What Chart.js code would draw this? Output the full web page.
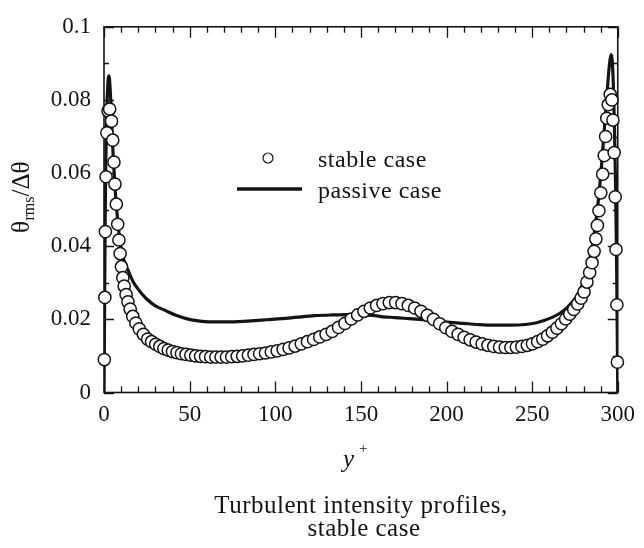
<!DOCTYPE html>
<html>
<head>
<meta charset="utf-8">
<script src="https://cdn.jsdelivr.net/npm/chart.js@4"></script>
<style>
  html, body { margin: 0; padding: 0; background: #fff; }
  canvas { display: block; }
</style>
</head>
<body>
<canvas id="c" width="644" height="548"></canvas>
<script>
// Wall-normal positions y+ and rms temperature fluctuation, stable stratification
const stableY = [0.2, 0.5, 0.8, 1.2, 1.7, 2.4, 3.3, 4.4, 5.1, 5.8,
  6.4, 7.2, 8.0, 8.7, 9.4, 10.2, 11.0, 11.8, 12.9, 14.0,
  15.3, 16.8, 18.6, 20.6, 23.0, 25.5, 27.8, 30.2, 32.6, 35.0,
  37.5, 40.0, 42.6, 45.2, 47.9, 50.7, 53.5, 56.4, 59.3, 62.3,
  65.3, 68.4, 71.5, 74.6, 77.8, 81.0, 84.3, 87.6, 90.9, 94.3,
  97.7, 101.1, 104.6, 108.1, 111.6, 115.2, 118.8, 122.4, 126.0, 129.7,
  133.3, 137.0, 140.7, 144.4, 148.1, 151.8, 155.5, 159.2, 162.9, 166.6,
  170.3, 174.0, 177.7, 181.4, 185.1, 188.8, 192.4, 196.0, 199.6, 203.2,
  206.8, 210.3, 213.8, 217.3, 220.8, 224.2, 227.6, 231.0, 234.3, 237.6,
  240.8, 244.0, 247.2, 250.2, 253.2, 256.2, 259.0, 261.8, 264.5, 267.1,
  269.6, 272.0, 274.3, 276.6, 278.6, 280.3, 282.0, 283.6, 285.0, 286.2,
  287.2, 288.1, 289.0, 290.1, 291.2, 292.1, 292.9, 293.6, 294.5, 295.6,
  296.6, 297.2, 297.9, 298.5, 299.0, 299.5, 299.8];
const stableTheta = [0.009, 0.026, 0.044, 0.059, 0.071, 0.077, 0.0775, 0.0742, 0.069, 0.063,
  0.057, 0.0515, 0.046, 0.0417, 0.038, 0.0344, 0.0314, 0.0291, 0.0268, 0.0248,
  0.0228, 0.0208, 0.019, 0.0174, 0.0159, 0.0146, 0.0139, 0.0132, 0.0126, 0.0120,
  0.0116, 0.0112, 0.0109, 0.0106, 0.0104, 0.0102, 0.0100, 0.0099, 0.0098, 0.0097,
  0.0097, 0.0097, 0.0097, 0.0098, 0.0099, 0.0100, 0.0102, 0.0104, 0.0106, 0.0108,
  0.0111, 0.0114, 0.0118, 0.0122, 0.0127, 0.0133, 0.0139, 0.0145, 0.0152, 0.0159,
  0.0167, 0.0178, 0.0189, 0.0201, 0.0212, 0.0222, 0.0231, 0.0238, 0.0243, 0.0246,
  0.0246, 0.0243, 0.0238, 0.0231, 0.0222, 0.0211, 0.0200, 0.0188, 0.0177, 0.0167,
  0.0159, 0.0151, 0.0144, 0.0138, 0.0133, 0.0129, 0.0126, 0.0124, 0.0123, 0.0123,
  0.0124, 0.0126, 0.0129, 0.0133, 0.0139, 0.0146, 0.0155, 0.0165, 0.0176, 0.0188,
  0.0201, 0.0214, 0.0227, 0.0242, 0.0258, 0.0275, 0.0302, 0.0328, 0.0355, 0.0386,
  0.0420, 0.0457, 0.0497, 0.0546, 0.0597, 0.0648, 0.0700, 0.0750, 0.0787, 0.0815,
  0.0800, 0.0745, 0.0656, 0.0535, 0.0391, 0.0240, 0.0083];

// Passive scalar profile
const passiveY = [0, 0.2, 0.4, 0.7, 1.1, 1.6, 2.2, 2.9, 3.6, 4.3,
  5.0, 5.8, 6.6, 7.5, 8.5, 9.6, 10.8, 12.2, 14.0, 17.0,
  20.0, 24.6, 30, 36, 42, 48, 55, 62, 70, 78,
  86, 95, 104, 113, 123, 133, 142, 150, 157, 163,
  170, 178, 186, 194, 202, 210, 218, 228, 238, 246,
  252, 257, 262, 266, 270, 273, 276, 278.5, 281, 283,
  285, 287, 289, 290.5, 292, 293.5, 294.8, 295.7, 296.3, 296.9,
  297.5, 298.1, 298.6, 299.0, 299.4, 299.7, 300];
const passiveTheta = [0, 0.012, 0.028, 0.048, 0.064, 0.076, 0.084, 0.0866, 0.083, 0.076,
  0.068, 0.061, 0.055, 0.0495, 0.0447, 0.0405, 0.0375, 0.0355, 0.0335, 0.0303,
  0.0282, 0.0257, 0.0237, 0.0224, 0.0211, 0.0202, 0.0196, 0.0193, 0.0193, 0.0194,
  0.0196, 0.0199, 0.0202, 0.0206, 0.0210, 0.0212, 0.0213, 0.0212, 0.0211, 0.0207,
  0.0205, 0.0202, 0.0199, 0.0196, 0.0192, 0.0189, 0.0186, 0.0184, 0.0184, 0.0186,
  0.0190, 0.0197, 0.0206, 0.0216, 0.0230, 0.0245, 0.0263, 0.0285, 0.0315, 0.0350,
  0.0395, 0.046, 0.054, 0.062, 0.071, 0.080, 0.088, 0.0915, 0.0924, 0.090,
  0.083, 0.072, 0.060, 0.047, 0.032, 0.017, 0];

// Axis ticks
const xTickValues = [0, 50, 100, 150, 200, 250, 300];
const yTickValues = [0, 0.02, 0.04, 0.06, 0.08, 0.1];
const xMinorStep = 10;
const yMinorStep = 0.01;

const seriesLabels = ['stable case', 'passive case'];
const captionLines = ['Turbulent intensity profiles,', 'stable case'];

const SERIF = '"Liberation Serif", "Times New Roman", serif';
const INK = '#141414';

// Boxed frame with inward major/minor ticks on all four sides
const frameTicks = {
  id: 'frameTicks',
  beforeDatasetsDraw(chart) {
    const { ctx, chartArea: a, scales: { x, y } } = chart;
    ctx.save();
    ctx.strokeStyle = INK;
    ctx.lineWidth = 1.6;
    ctx.strokeRect(a.left, a.top, a.right - a.left, a.bottom - a.top);
    ctx.lineWidth = 1.3;
    ctx.beginPath();
    const xMin = x.min, xMax = x.max;
    for (let i = 0; xMin + i * xMinorStep <= xMax + 1e-9; i++) {
      const v = xMin + i * xMinorStep;
      const px = Math.round(x.getPixelForValue(v)) + 0.5;
      const major = xTickValues.some(t => Math.abs(t - v) < 1e-6);
      const len = major ? 11 : 6;
      ctx.moveTo(px, a.bottom); ctx.lineTo(px, a.bottom - len);
      ctx.moveTo(px, a.top); ctx.lineTo(px, a.top + len);
    }
    const yMin = y.min, yMax = y.max;
    for (let i = 0; yMin + i * yMinorStep <= yMax + 1e-9; i++) {
      const v = yMin + i * yMinorStep;
      const py = Math.round(y.getPixelForValue(v)) + 0.5;
      const major = yTickValues.some(t => Math.abs(t - v) < 1e-6);
      const len = major ? 10 : 5;
      ctx.moveTo(a.left, py); ctx.lineTo(a.left + len, py);
      ctx.moveTo(a.right, py); ctx.lineTo(a.right - len, py);
    }
    ctx.stroke();
    ctx.restore();
  }
};

// Axis titles, legend and caption
const annotations = {
  id: 'annotations',
  afterDraw(chart) {
    const { ctx } = chart;
    ctx.save();
    ctx.fillStyle = INK;
    ctx.textBaseline = 'alphabetic';
    ctx.textAlign = 'left';

    // y-axis title: theta_rms / Delta theta
    ctx.save();
    ctx.translate(29, 233);
    ctx.rotate(-Math.PI / 2);
    ctx.font = '25px ' + SERIF;
    ctx.fillText('\u03B8', 0, 0);
    let w = ctx.measureText('\u03B8').width;
    ctx.font = '16px ' + SERIF;
    ctx.fillText('rms', w + 0.5, 5);
    w += ctx.measureText('rms').width + 0.5;
    ctx.font = '25px ' + SERIF;
    ctx.fillText('/\u0394\u03B8', w, 0);
    ctx.restore();

    // x-axis title: y+
    ctx.font = 'italic 25px ' + SERIF;
    ctx.fillText('y', 343, 467);
    ctx.font = '15px ' + SERIF;
    ctx.fillText('+', 359, 453);

    // legend
    ctx.beginPath();
    ctx.arc(268, 158, 5, 0, Math.PI * 2);
    ctx.fillStyle = '#fff';
    ctx.fill();
    ctx.lineWidth = 1.2;
    ctx.strokeStyle = INK;
    ctx.stroke();
    ctx.beginPath();
    ctx.moveTo(237, 189);
    ctx.lineTo(302, 189);
    ctx.lineWidth = 3.4;
    ctx.stroke();
    ctx.fillStyle = INK;
    ctx.font = '24px ' + SERIF;
    ctx.letterSpacing = '0.5px';
    ctx.fillText(seriesLabels[0], 318, 167);
    ctx.fillText(seriesLabels[1], 318, 198);

    // caption
    ctx.textAlign = 'center';
    ctx.font = '25px ' + SERIF;
    ctx.fillText(captionLines[0], 361, 513);
    ctx.fillText(captionLines[1], 364, 536);
    ctx.restore();
  }
};

const tickFont = { family: SERIF, size: 23 };

new Chart(document.getElementById('c'), {
  type: 'scatter',
  data: {
    datasets: [
      {
        label: seriesLabels[0],
        data: stableY.map((v, i) => ({ x: v, y: stableTheta[i] })),
        showLine: false,
        pointStyle: 'circle',
        pointRadius: 6.1,
        pointBorderWidth: 1.5,
        pointBorderColor: INK,
        pointBackgroundColor: '#fff',
        clip: false,
        order: 0
      },
      {
        label: seriesLabels[1],
        data: passiveY.map((v, i) => ({ x: v, y: passiveTheta[i] })),
        showLine: true,
        borderColor: INK,
        borderWidth: 3.2,
        pointRadius: 0,
        cubicInterpolationMode: 'monotone',
        order: 1
      }
    ]
  },
  options: {
    responsive: false,
    animation: false,
    devicePixelRatio: 1,
    layout: { padding: { left: 0, top: 20, right: 20, bottom: 115.5 } },
    plugins: { legend: { display: false }, tooltip: { enabled: false } },
    scales: {
      x: {
        type: 'linear', min: 0, max: 300,
        grid: { display: false, drawTicks: false },
        border: { display: false },
        afterBuildTicks: s => { s.ticks = xTickValues.map(v => ({ value: v })); },
        afterFit: s => { s.height = 40; },
        ticks: { font: tickFont, color: INK, padding: 9, maxRotation: 0, autoSkip: false,
                 callback: v => String(v) }
      },
      y: {
        type: 'linear', min: 0, max: 0.1,
        grid: { display: false, drawTicks: false },
        border: { display: false },
        afterBuildTicks: s => { s.ticks = yTickValues.map(v => ({ value: v })); },
        afterFit: s => { s.width = 104; },
        ticks: { font: tickFont, color: INK, padding: 13, autoSkip: false,
                 callback: v => String(v) }
      }
    }
  },
  plugins: [frameTicks, annotations]
});
</script>
</body>
</html>
